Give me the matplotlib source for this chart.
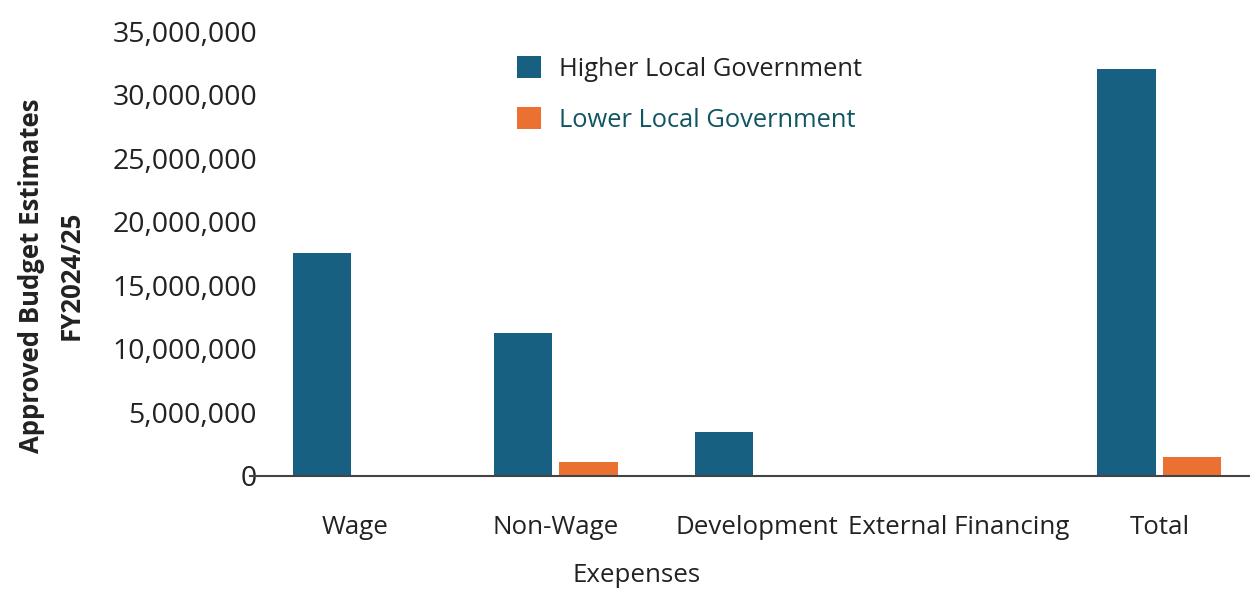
import matplotlib.pyplot as plt
import numpy as np

categories = ['Wage', 'Non-Wage', 'Development', 'External Financing', 'Total']
higher_lg = [17530000, 11240000, 3460000, 0, 32000000]
lower_lg = [0, 1100000, 0, 0, 1500000]
series_names = ['Higher Local Government', 'Lower Local Government']
yticks = [0, 5000000, 10000000, 15000000, 20000000, 25000000, 30000000, 35000000]

plt.rcParams['font.family'] = ['Open Sans', 'DejaVu Sans']

fig = plt.figure(figsize=(12.5, 5.89), dpi=100)
ax = fig.add_axes([0.2, 0.192, 0.8, 0.755])

x = np.arange(len(categories))
width = 0.29
off = 0.163

ax.bar(x - off, higher_lg, width, color='#186082', label=series_names[0])
ax.bar(x + off, lower_lg, width, color='#EA7132', label=series_names[1])

ax.set_xlim(-0.52, 4.45)
ax.set_ylim(0, 35000000)
ax.set_yticks(yticks)
ax.set_yticklabels([f'{v:,}' for v in yticks], fontsize=20.5, color='#222222')
ax.set_xticks(x)
ax.set_xticklabels(categories, fontsize=18.6, color='#222222')
ax.tick_params(axis='y', length=0, pad=-5)
ax.tick_params(axis='x', length=0, pad=28)

for s in ['top', 'right', 'left']:
    ax.spines[s].set_visible(False)
ax.spines['bottom'].set_color('#444444')
ax.spines['bottom'].set_linewidth(1.5)

ax.set_xlabel('Exepenses', fontsize=18.6, color='#222222')
ax.xaxis.set_label_coords(0.387, -0.195)
ax.set_ylabel('Approved Budget Estimates\nFY2024/25', fontsize=18.5, fontweight='bold',
              color='#222222', linespacing=1.6)
ax.yaxis.set_label_coords(-0.165, 0.45)

leg = ax.legend(loc='upper left', bbox_to_anchor=(0.4136, 0.905),
                bbox_transform=fig.transFigure, frameon=False, fontsize=18.4,
                handlelength=0.95, handleheight=0.95, handletextpad=0.7,
                labelspacing=1.0, borderpad=0, borderaxespad=0)
leg.get_texts()[0].set_color('#222222')
leg.get_texts()[1].set_color('#0f5562')

fig.savefig('out.png', dpi=100)
